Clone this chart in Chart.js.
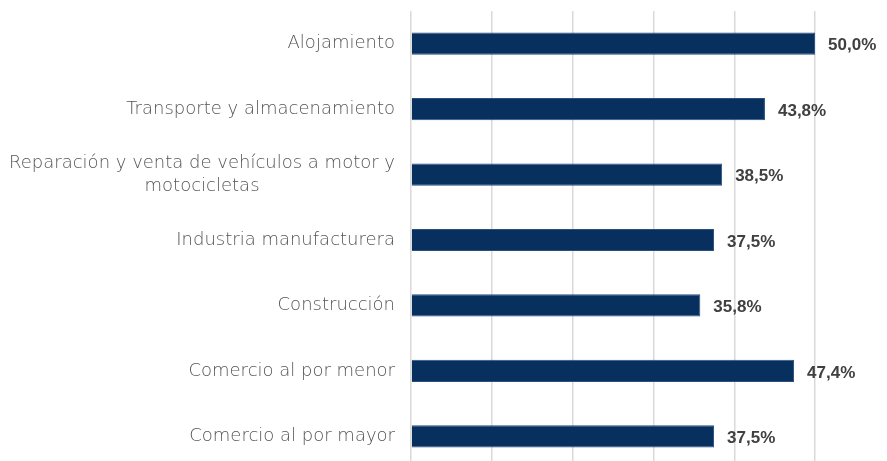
<!DOCTYPE html>
<html>
<head>
<meta charset="utf-8">
<script src="https://cdn.jsdelivr.net/npm/chart.js@4/dist/chart.umd.min.js"></script>
<style>
    html, body { margin: 0; padding: 0; background: #fff; overflow: hidden; }
    .wrap { position: relative; width: 887px; height: 469px; }
</style>
</head>
<body>
<div class="wrap"><canvas id="chart"></canvas></div>
<script>
var categories = [
    "Alojamiento",
    "Transporte y almacenamiento",
    ["Reparación y venta de vehículos a motor y", "motocicletas"],
    "Industria manufacturera",
    "Construcción",
    "Comercio al por menor",
    "Comercio al por mayor"
];
var shares = [50.0, 43.8, 38.5, 37.5, 35.8, 47.4, 37.5];
var gridSteps = [0, 10, 20, 30, 40, 50];

var labelFont = '300 18px "DejaVu Sans", sans-serif';

// etiquetas de valor al final de cada barra
var valueLabels = {
    id: 'valueLabels',
    afterDatasetsDraw: function (chart) {
        var ctx = chart.ctx;
        var meta = chart.getDatasetMeta(0);
        ctx.save();
        ctx.font = 'bold 17px "Liberation Sans", Arial, sans-serif';
        ctx.fillStyle = '#404040';
        ctx.textAlign = 'left';
        ctx.textBaseline = 'middle';
        meta.data.forEach(function (bar, i) {
            var txt = shares[i].toFixed(1).replace('.', ',') + '%';
            ctx.fillText(txt, bar.x + 13, bar.y + 2);
        });
        ctx.restore();
    }
};

// categorías: bloque alineado a la derecha, líneas centradas entre sí
var categoryLabels = {
    id: 'categoryLabels',
    afterDraw: function (chart) {
        var ctx = chart.ctx;
        var yScale = chart.scales.y;
        var right = chart.chartArea.left - 16;
        var lh = 23;
        ctx.save();
        ctx.font = labelFont;
        ctx.fillStyle = '#555555';
        ctx.textAlign = 'center';
        ctx.textBaseline = 'middle';
        categories.forEach(function (lab, i) {
            var lines = Array.isArray(lab) ? lab : [lab];
            var w = 0;
            lines.forEach(function (l) { w = Math.max(w, ctx.measureText(l).width); });
            var cx = right - w / 2;
            var y0 = yScale.getPixelForTick(i) - (lines.length - 1) * lh / 2;
            lines.forEach(function (l, j) {
                ctx.fillText(l, cx, y0 + j * lh);
            });
        });
        ctx.restore();
    }
};

var ctx = document.getElementById('chart');
var chart = new Chart(ctx, {
    type: 'bar',
    data: {
        labels: categories,
        datasets: [{
            data: shares,
            backgroundColor: '#08305f',
            borderColor: '#2a4f80',
            borderWidth: 1,
            categoryPercentage: 1,
            barPercentage: 0.34
        }]
    },
    options: {
        indexAxis: 'y',
        responsive: true,
        maintainAspectRatio: false,
        animation: false,
        layout: { padding: { top: 11, right: 0, bottom: 0, left: 0 } },
        plugins: {
            legend: { display: false },
            tooltip: { enabled: false }
        },
        scales: {
            x: {
                min: 0,
                max: 58.9,
                ticks: { display: false, stepSize: 10 },
                afterFit: function (scale) { scale.height = 0; },
                grid: {
                    drawTicks: false,
                    lineWidth: 1.5,
                    color: function (c) {
                        return gridSteps.indexOf(c.tick.value) >= 0 ? '#d9d9d9' : 'rgba(0,0,0,0)';
                    }
                },
                border: { display: false }
            },
            y: {
                afterFit: function (scale) {
                    scale.width = 411;
                    scale.paddingTop = 0;
                    scale.paddingBottom = 0;
                },
                ticks: {
                    padding: 16,
                    color: 'rgba(0,0,0,0)',
                    font: { family: '"DejaVu Sans", sans-serif', size: 18, weight: 300, lineHeight: 1.3 }
                },
                grid: { display: false, drawTicks: false },
                border: { display: false }
            }
        }
    },
    plugins: [valueLabels, categoryLabels]
});
</script>
</body>
</html>
